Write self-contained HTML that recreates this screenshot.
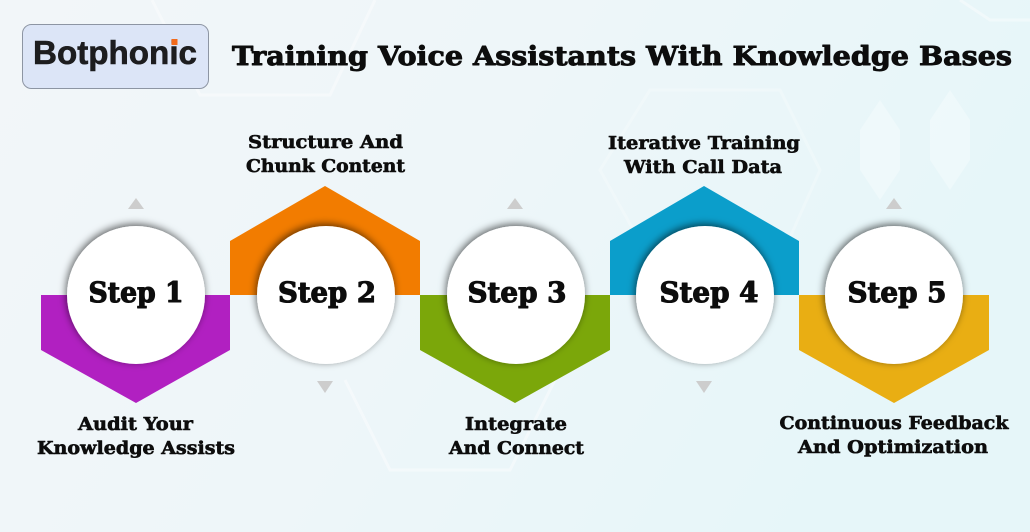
<!DOCTYPE html>
<html><head><meta charset="utf-8"><style>
html,body{margin:0;padding:0;}
body{width:1030px;height:532px;overflow:hidden;}
svg{display:block;}
.t{font-family:"DejaVu Serif","Liberation Serif",serif;font-weight:bold;fill:#0d0d0d;stroke:#0d0d0d;stroke-linejoin:round;}
</style></head><body>
<svg width="1030" height="532" viewBox="0 0 1030 532" xmlns="http://www.w3.org/2000/svg">
<defs>
<linearGradient id="bg" x1="0" y1="0" x2="1" y2="0.3">
<stop offset="0" stop-color="#f2f6f9"/>
<stop offset="0.5" stop-color="#eef6f9"/>
<stop offset="1" stop-color="#e6f6f9"/>
</linearGradient>
<filter id="sh" x="-30%" y="-30%" width="160%" height="160%">
<feDropShadow dx="-1" dy="-2" stdDeviation="4" flood-color="#000" flood-opacity="0.6"/>
</filter>
</defs>
<rect width="1030" height="532" fill="url(#bg)"/>
<!-- faint background hexagons -->
<g fill="none" stroke="#ffffff" stroke-width="3" opacity="0.4">
<path d="M152 0 L200 95 L330 95 L375 0"/>
<path d="M600 170 L650 260 L780 260 L820 170 L780 90 L650 90 Z" opacity="0.6"/>
<path d="M345 380 L390 470 L510 470 L555 380"/>
<path d="M960 0 L990 20 L1030 20"/>
</g>
<g fill="#ffffff" opacity="0.3">
<path d="M880 100 L900 130 L900 170 L880 200 L860 170 L860 130 Z"/>
<path d="M950 90 L970 120 L970 160 L950 190 L930 160 L930 120 Z"/>
</g>

<!-- logo -->
<rect x="22.5" y="24.5" width="186" height="64" rx="9" fill="#dce5f7" stroke="#8d95a3" stroke-width="1"/>
<text x="33" y="64" font-family="Liberation Sans, Arial, sans-serif" font-weight="bold" font-size="33" fill="#1d1d1f" stroke="#1d1d1f" stroke-width="0.6" textLength="164" lengthAdjust="spacingAndGlyphs">Botphonic</text>
<rect x="171.5" y="39" width="6" height="6" fill="#f26a1b"/>

<!-- title -->
<text class="t" x="232" y="65" font-size="26" stroke-width="0.9" textLength="780" lengthAdjust="spacingAndGlyphs">Training Voice Assistants With Knowledge Bases</text>

<!-- shapes -->
<polygon points="41,295 230,295 230,350 136,403 41,350" fill="#b120c1"/>
<polygon points="230,295 230,241 325,186 420,241 420,295" fill="#f27c00"/>
<polygon points="420,295 610,295 610,350 515,403 420,350" fill="#7ba70a"/>
<polygon points="610,295 610,241 704,186 799,241 799,295" fill="#0b9ecb"/>
<polygon points="799,295 989,295 989,350 894,403 799,350" fill="#e9ae13"/>

<!-- triangles -->
<g fill="#cdcdcd">
<polygon points="128,209 144,209 136,198"/>
<polygon points="317,381 333,381 325,393"/>
<polygon points="507,209 523,209 515,198"/>
<polygon points="696,381 712,381 704,393"/>
<polygon points="886,209 902,209 894,198"/>
</g>

<!-- circles -->
<g fill="#ffffff" filter="url(#sh)">
<circle cx="136" cy="295" r="69"/>
<circle cx="326" cy="295" r="69"/>
<circle cx="516" cy="295" r="69"/>
<circle cx="705" cy="295" r="69"/>
<circle cx="894" cy="295" r="69"/>
</g>

<!-- step labels -->
<g class="t" font-size="28" stroke-width="1.1" text-anchor="middle">
<text x="136" y="302" textLength="95" lengthAdjust="spacingAndGlyphs">Step 1</text>
<text x="327" y="302" textLength="98" lengthAdjust="spacingAndGlyphs">Step 2</text>
<text x="517" y="302" textLength="99" lengthAdjust="spacingAndGlyphs">Step 3</text>
<text x="709" y="302" textLength="99" lengthAdjust="spacingAndGlyphs">Step 4</text>
<text x="897" y="302" textLength="99" lengthAdjust="spacingAndGlyphs">Step 5</text>
</g>

<!-- descriptions -->
<g class="t" font-size="17.5" stroke-width="0.6" text-anchor="middle">
<text x="325.5" y="148" textLength="155" lengthAdjust="spacingAndGlyphs">Structure And</text>
<text x="325.5" y="172" textLength="159" lengthAdjust="spacingAndGlyphs">Chunk Content</text>
<text x="704" y="149" textLength="192" lengthAdjust="spacingAndGlyphs">Iterative Training</text>
<text x="703" y="173" textLength="158" lengthAdjust="spacingAndGlyphs">With Call Data</text>
<text x="135.5" y="430" textLength="115" lengthAdjust="spacingAndGlyphs">Audit Your</text>
<text x="136" y="454" textLength="198" lengthAdjust="spacingAndGlyphs">Knowledge Assists</text>
<text x="516" y="430" textLength="102" lengthAdjust="spacingAndGlyphs">Integrate</text>
<text x="516.5" y="454" textLength="135" lengthAdjust="spacingAndGlyphs">And Connect</text>
<text x="894" y="429" textLength="229" lengthAdjust="spacingAndGlyphs">Continuous Feedback</text>
<text x="893" y="453" textLength="190" lengthAdjust="spacingAndGlyphs">And Optimization</text>
</g>
</svg>
</body></html>
